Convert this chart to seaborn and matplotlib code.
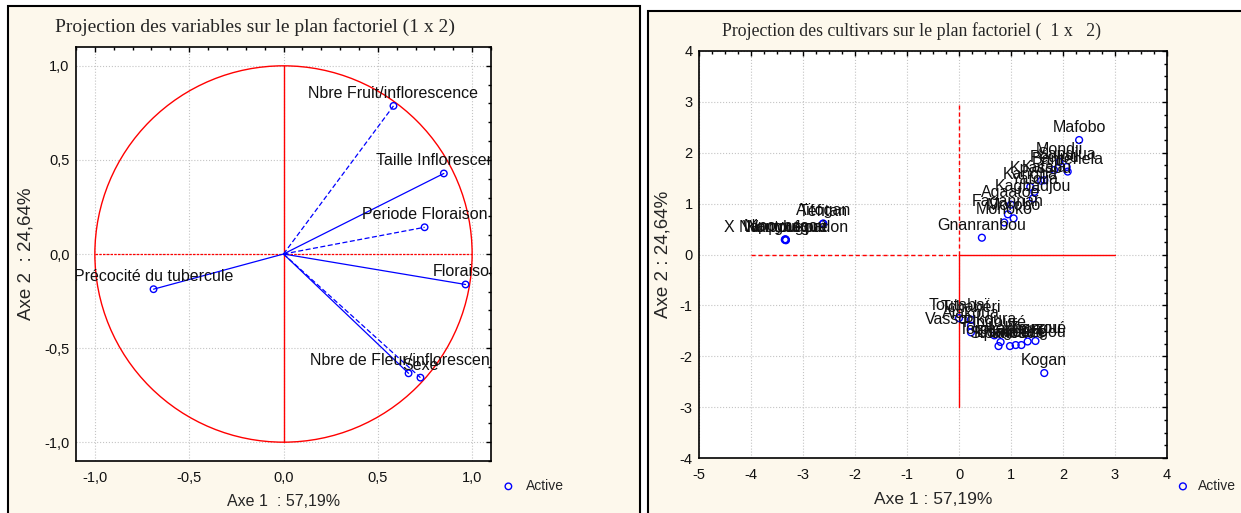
import matplotlib
matplotlib.use("Agg")
import matplotlib.pyplot as plt
from matplotlib.patches import Rectangle, Circle
from matplotlib.ticker import MultipleLocator, FuncFormatter
import seaborn as sns
import pandas as pd

# --- données : projection des variables (cercle des corrélations)
variables = ["Nbre Fruit/inflorescence", "Taille Inflorescence", "Periode Floraison",
             "Floraison", "Nbre de Fleur/inflorescence", "Sexe", "Précocité du tubercule"]
var_axe1 = [0.583, 0.850, 0.748, 0.965, 0.663, 0.726, -0.689]
var_axe2 = [0.787, 0.428, 0.142, -0.162, -0.634, -0.657, -0.187]
var_dashed = [True, False, True, False, False, True, False]

# --- données : projection des cultivars
cultivars = ["Mafobo", "Mondji", "Sandjua", "Bantehela", "Pédjou", "Kpassou", "Katala",
             "Kangba", "Yatolia", "Kagbadjou", "Agaatoe", "Fagannan", "Morobo", "Monoko",
             "Gnanranbou",
             "Téfitan", "Aïtogan", "X Nanpougoudon", "Nipoyassou", "Wangbégué", "Koutoukpa",
             "Toutabaï", "Tchabéri", "Alakoua", "Vassoukoura", "Pingouré", "Torokannga",
             "Sinkaba", "Kpancédé", "Nagbazé", "Bonkoungou", "Lokpangué", "Zouzou", "Kogan"]
cult_axe1 = [2.31, 1.93, 2.07, 2.09, 1.83, 1.58, 1.64,
             1.37, 1.45, 1.42, 1.00, 0.94, 1.05, 0.87,
             0.44,
             -2.62, -2.61, -3.33, -3.34, -3.33, -3.35,
             0.00, 0.23, 0.23, 0.23, 0.68, 0.80,
             0.76, 0.98, 1.09, 1.20, 1.32, 1.47, 1.64]
cult_axe2 = [2.25, 1.82, 1.72, 1.63, 1.66, 1.45, 1.46,
             1.33, 1.23, 1.10, 0.98, 0.79, 0.71, 0.63,
             0.33,
             0.60, 0.61, 0.29, 0.30, 0.28, 0.29,
             -1.25, -1.28, -1.40, -1.53, -1.59, -1.72,
             -1.80, -1.80, -1.78, -1.78, -1.71, -1.70, -2.33]

W, H = 1241, 513
CREAM = "#fdf8ec"
BLUE = "#0000ff"
SANS = ["Liberation Sans", "DejaVu Sans"]
SERIF = ["Liberation Serif", "DejaVu Serif"]

sns.set_theme(style="white")
plt.rcParams["font.family"] = SANS
plt.rcParams["axes.unicode_minus"] = False

fig = plt.figure(figsize=(W / 100, H / 100), dpi=100, facecolor="white")

# cadres des deux panneaux
fig.add_artist(Rectangle((7.5 / W, -0.1), 632 / W, 1.1 - 6 / H, transform=fig.transFigure,
                         fc=CREAM, ec="black", lw=1.5, zorder=0))
fig.add_artist(Rectangle((647.5 / W, -0.1), 610 / W, 1.1 - 11 / H, transform=fig.transFigure,
                         fc=CREAM, ec="black", lw=1.5, zorder=0))


def px_axes(x0, y0, x1, y1):
    return fig.add_axes([x0 / W, 1 - y1 / H, (x1 - x0) / W, (y1 - y0) / H])


def style_axes(ax, major, minor, fmt):
    ax.set_facecolor("white")
    ax.xaxis.set_major_locator(MultipleLocator(major))
    ax.yaxis.set_major_locator(MultipleLocator(major))
    ax.xaxis.set_minor_locator(MultipleLocator(minor))
    ax.yaxis.set_minor_locator(MultipleLocator(minor))
    ax.xaxis.set_major_formatter(FuncFormatter(fmt))
    ax.yaxis.set_major_formatter(FuncFormatter(fmt))
    ax.tick_params(which="both", direction="in", top=True, right=True, width=1, color="black")
    ax.tick_params(which="major", length=3.5, labelsize=10.5, labelcolor="#111111")
    ax.tick_params(which="minor", length=2.5)
    ax.tick_params(axis="x", pad=7)
    ax.tick_params(axis="y", pad=4.5)
    for s in ax.spines.values():
        s.set_color("black")
        s.set_linewidth(1.2)
    ax.grid(True, which="major", color="#c4c4c4", linestyle=":", linewidth=0.8)
    ax.set_axisbelow(True)


# ---------------- panneau gauche : variables ----------------
ax1 = px_axes(76, 47, 491, 461)
ax1.set_xlim(-1.1, 1.1)
ax1.set_ylim(-1.1, 1.1)
style_axes(ax1, 0.5, 0.1, lambda v, p: f"{v:.1f}".replace(".", ",").replace("-0,0", "0,0"))

ax1.add_patch(Circle((0, 0), 1, fill=False, ec="red", lw=1.0, zorder=2))
ax1.plot([-1, 1], [0, 0], color="red", lw=0.9, ls=(0, (2, 1)), zorder=2)
ax1.plot([0, 0], [-1, 1], color="red", lw=1.0, zorder=2)

for name, x, y, dashed in zip(variables, var_axe1, var_axe2, var_dashed):
    ax1.plot([0, x], [0, y], color=BLUE, lw=0.9, ls=(0, (4, 2)) if dashed else "-", zorder=3)
    ax1.annotate(name, (x, y), xytext=(0, 9), textcoords="offset points", ha="center",
                 va="center", fontsize=11.5, color="#111111", clip_on=True, zorder=5)

df_var = pd.DataFrame({"axe1": var_axe1, "axe2": var_axe2})
sns.scatterplot(data=df_var, x="axe1", y="axe2", ax=ax1, s=22, facecolors="none",
                edgecolor=BLUE, linewidth=1, legend=False, zorder=4, label="Active")

ax1.set_title("Projection des variables sur le plan factoriel (1 x 2)", family=SERIF,
              fontsize=14, x=(255 - 76) / 415, y=1 + 20 / 414, va="center", pad=0)
ax1.set_xlabel("Axe 1  : 57,19%", fontsize=11.5, va="center")
ax1.xaxis.set_label_coords(0.5, (461 - 502) / 414)
ax1.set_ylabel("Axe 2  : 24,64%", fontsize=13.5, va="center")
ax1.yaxis.set_label_coords((26.5 - 76) / 415, 0.5)
ax1.legend(handles=ax1.collections[:1], labels=["Active"], frameon=False, fontsize=10,
           loc="center left", bbox_to_anchor=(494.5 / W, 1 - 486 / H),
           bbox_transform=fig.transFigure, borderpad=0, handlelength=1,
           handletextpad=0.8, markerscale=1.0)

# ---------------- panneau droit : cultivars ----------------
ax2 = px_axes(699, 51, 1167, 458)
ax2.set_xlim(-5, 4)
ax2.set_ylim(-4, 4)
style_axes(ax2, 1, 0.25, lambda v, p: f"{v:.0f}")

ax2.plot([-4, 0], [0, 0], color="red", lw=1.0, ls=(0, (3, 2)), zorder=2)
ax2.plot([0, 3], [0, 0], color="red", lw=1.0, zorder=2)
ax2.plot([0, 0], [0, 3], color="red", lw=1.0, ls=(0, (3, 2)), zorder=2)
ax2.plot([0, 0], [0, -3], color="red", lw=1.0, zorder=2)

df_cult = pd.DataFrame({"cultivar": cultivars, "axe1": cult_axe1, "axe2": cult_axe2})
sns.scatterplot(data=df_cult, x="axe1", y="axe2", ax=ax2, s=24, facecolors="none",
                edgecolor=BLUE, linewidth=1, legend=False, zorder=4)
for name, x, y in zip(df_cult["cultivar"], df_cult["axe1"], df_cult["axe2"]):
    ax2.annotate(name, (x, y), xytext=(0, 9), textcoords="offset points", ha="center",
                 va="center", fontsize=11.5, color="#111111", clip_on=True, zorder=5)

ax2.set_title("Projection des cultivars sur le plan factoriel (  1 x   2)", family=SERIF,
              fontsize=12.8, x=(912 - 699) / 468, y=1 + 19.5 / 407, va="center", pad=0)
ax2.set_xlabel("Axe 1 : 57,19%", fontsize=12.5, va="center")
ax2.xaxis.set_label_coords(0.5, (458 - 500) / 407)
ax2.set_ylabel("Axe 2 : 24,64%", fontsize=13.5, va="center")
ax2.yaxis.set_label_coords((663 - 699) / 468, 0.5)
ax2.legend(handles=ax2.collections[:1], labels=["Active"], frameon=False, fontsize=10,
           loc="center left", bbox_to_anchor=(1169 / W, 1 - 486 / H),
           bbox_transform=fig.transFigure, borderpad=0, handlelength=1,
           handletextpad=0.6)

fig.savefig("out.png", dpi=100, facecolor="white")
